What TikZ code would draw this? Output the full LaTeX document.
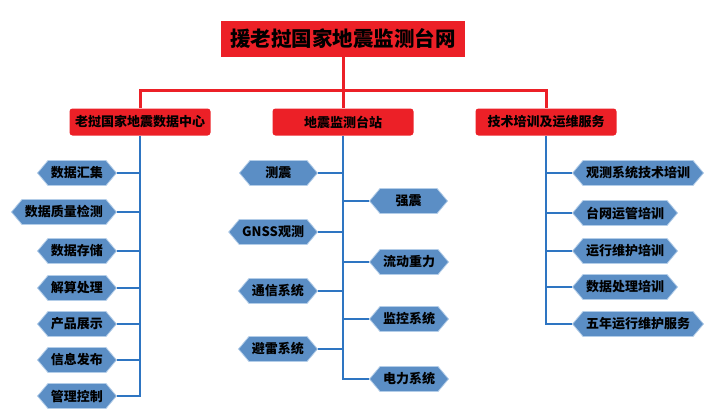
\documentclass[tikz,border=0pt]{standalone}
\usepackage{fontspec}
\setmainfont{Noto Sans CJK SC}
\usetikzlibrary{shapes.symbols}
\definecolor{boxred}{HTML}{EC2027}
\definecolor{linkblue}{HTML}{2E75C2}
\definecolor{leafblue}{HTML}{5B8EC5}
\definecolor{leafrim}{HTML}{B3CDE8}

\begin{document}
\begin{tikzpicture}[x=1pt,y=-1pt,
  title node/.style={fill=boxred, font=\fontsize{20.5}{22}\selectfont\bfseries, minimum width=244pt, minimum height=36pt, inner sep=0pt},
  group node/.style={fill=boxred, rounded corners=3pt, font=\fontsize{13}{15}\selectfont\bfseries, minimum width=141pt, minimum height=27pt, inner sep=0pt},
  leaf node/.style={signal, signal to=east and west, signal pointer angle=100, fill=leafblue, draw=leafrim, line width=0.8pt, font=\fontsize{13}{15}\selectfont\bfseries, minimum width=78pt, minimum height=25pt, inner xsep=3pt, inner ysep=5pt},
  red link/.style={draw=boxred, line width=3pt},
  blue link/.style={draw=linkblue, line width=2pt}]
    \useasboundingbox (0,0) rectangle (722,418);
    % Nodes
    \node[title node] (net) at (343,39) {援老挝国家地震监测台网};
    \node[group node] (center) at (140,122) {老挝国家地震数据中心};
    \node[group node] (station) at (343,122) {地震监测台站};
    \node[group node] (service) at (546,122) {技术培训及运维服务};
    \coordinate (bus) at (343,90);

    \foreach \name/\y/\txt in {c1/173/数据汇集, c2/212/数据质量检测, c3/251/数据存储, c4/288/解算处理, c5/324/产品展示, c6/360/信息发布, c7/396/管理控制}
      \node[leaf node, anchor=east] (\name) at (117,\y) {\txt};
    \foreach \name/\y/\txt in {s1/173/测震, s2/232/GNSS观测, s3/291/通信系统, s4/349/避雷系统}
      \node[leaf node, anchor=east] (\name) at (318,\y) {\txt};
    \foreach \name/\y/\txt in {r1/201/强震, r2/262/流动重力, r3/319/监控系统, r4/379/电力系统}
      \node[leaf node, anchor=west] (\name) at (369,\y) {\txt};
    \foreach \name/\y/\txt in {t1/173/观测系统技术培训, t2/213/台网运管培训, t3/251/运行维护培训, t4/287/数据处理培训, t5/324/五年运行维护服务}
      \node[leaf node, anchor=west] (\name) at (572,\y) {\txt};

    % Links
    \draw[red link] (net.south) -- (bus);
    \draw[red link] (center.north) |- (bus) -| (service.north);
    \draw[red link] (bus) -- (station.north);

    \draw[blue link] (center.south) |- (c7.east);
    \foreach \name in {c1,c2,c3,c4,c5,c6}
      \draw[blue link] (\name.east) -- (\name.east -| center.south);
    \draw[blue link] (station.south) |- (r4.west);
    \foreach \name in {s1,s2,s3,s4}
      \draw[blue link] (\name.east) -- (\name.east -| station.south);
    \foreach \name in {r1,r2,r3}
      \draw[blue link] (\name.west) -- (\name.west -| station.south);
    \draw[blue link] (service.south) |- (t5.west);
    \foreach \name in {t1,t2,t3,t4}
      \draw[blue link] (\name.west) -- (\name.west -| service.south);
\end{tikzpicture}
\end{document}
